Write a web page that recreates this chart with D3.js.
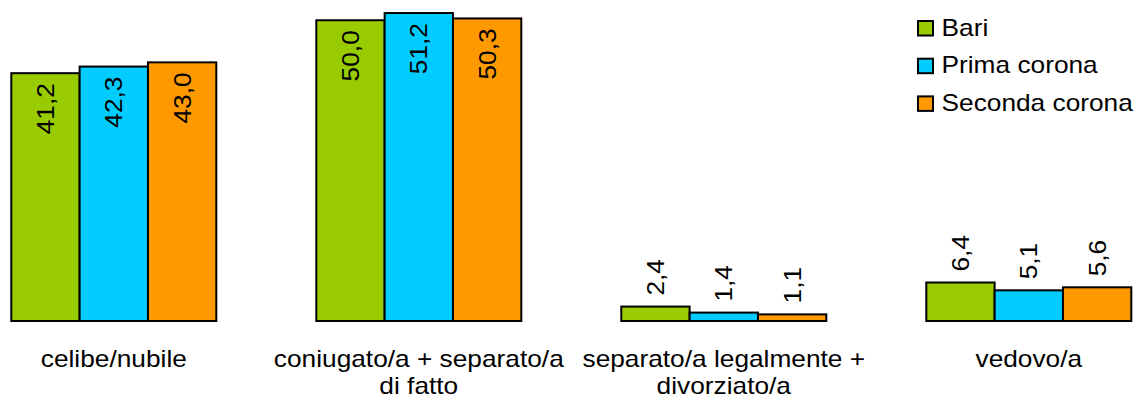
<!DOCTYPE html>
<html>
<head>
<meta charset="utf-8">
<script src="https://cdn.jsdelivr.net/npm/d3@7/dist/d3.min.js"></script>
<style>
  html, body { margin: 0; padding: 0; background: #fff; }
  svg { display: block; font-family: "Liberation Sans", Arial, sans-serif; }
</style>
</head>
<body>
<svg id="chart" width="1134" height="401"></svg>
<script>
// Stato civile: quote percentuali per area
const categories = [
  ["celibe/nubile"],
  ["coniugato/a + separato/a", "di fatto"],
  ["separato/a legalmente +", "divorziato/a"],
  ["vedovo/a"]
];
const seriesNames = ["Bari", "Prima corona", "Seconda corona"];
const bari = [41.2, 50.0, 2.4, 6.4];
const primaCorona = [42.3, 51.2, 1.4, 5.1];
const secondaCorona = [43.0, 50.3, 1.1, 5.6];
const seriesColors = ["#99CC00", "#00CCFF", "#FF9900"];

const seriesValues = [bari, primaCorona, secondaCorona];
const fmt = v => v.toFixed(1).replace(".", ",");

const svg = d3.select("#chart");
const FONT = 24, STRETCH = 1.095;

const catKeys = categories.map((c, i) => i);
const x0 = d3.scaleBand().domain(catKeys).range([11.3, 1131.3])
  .paddingInner(100 / 305).paddingOuter(0);
const x1 = d3.scaleBand().domain(seriesNames).range([0, x0.bandwidth()]).padding(0);
const y = d3.scaleLinear().domain([0, 52]).range([321, 321 - 52 * 6.015]);

const rows = [];
catKeys.forEach(ci => seriesNames.forEach((s, si) => {
  rows.push({ ci, si, s, v: seriesValues[si][ci] });
}));

const g = svg.append("g");

g.selectAll("rect.bar").data(rows).join("rect")
  .attr("class", "bar")
  .attr("x", d => x0(d.ci) + x1(d.s))
  .attr("y", d => y(d.v))
  .attr("width", x1.bandwidth())
  .attr("height", d => y(0) - y(d.v))
  .attr("fill", d => seriesColors[d.si])
  .attr("stroke", "#000")
  .attr("stroke-width", 2);

// value labels, rotated; inside the top of tall bars, above short ones
const gap = 10;
g.selectAll("text.val").data(rows).join("text")
  .attr("class", "val")
  .attr("font-size", FONT)
  .attr("fill", "#000")
  .attr("dominant-baseline", "central")
  .each(function (d) {
    const cx = x0(d.ci) + x1(d.s) + x1.bandwidth() / 2;
    const top = y(d.v);
    const inside = top < 120;
    const el = d3.select(this).text(fmt(d.v));
    if (inside) {
      el.attr("text-anchor", "end")
        .attr("transform", `translate(${cx},${top + gap}) rotate(-90) scale(${STRETCH},1)`);
    } else {
      el.attr("text-anchor", "start")
        .attr("transform", `translate(${cx},${top - gap - 1}) rotate(-90) scale(${STRETCH},1)`);
    }
  });

// category labels
const catG = g.selectAll("g.cat").data(categories).join("g")
  .attr("class", "cat");
catG.each(function (lines, i) {
  const cx = x0(i) + x0.bandwidth() / 2;
  d3.select(this).selectAll("text").data(lines).join("text")
    .attr("font-size", FONT)
    .attr("text-anchor", "middle")
    .attr("fill", "#000")
    .attr("transform", (t, k) => `translate(${cx},${366.5 + k * 27.5}) scale(${STRETCH},1)`)
    .text(t => t);
});

// legend
const legend = svg.append("g").attr("class", "legend");
const leg = legend.selectAll("g").data(seriesNames).join("g")
  .attr("transform", (d, i) => `translate(0,${35.5 + i * 37.7})`);
leg.append("rect")
  .attr("x", 918).attr("y", -14.5).attr("width", 15).attr("height", 14.5)
  .attr("fill", (d, i) => seriesColors[i])
  .attr("stroke", "#000").attr("stroke-width", 2);
leg.append("text")
  .attr("font-size", FONT)
  .attr("fill", "#000")
  .attr("transform", `translate(941.5,0) scale(${STRETCH},1)`)
  .text(d => d);
</script>
</body>
</html>
